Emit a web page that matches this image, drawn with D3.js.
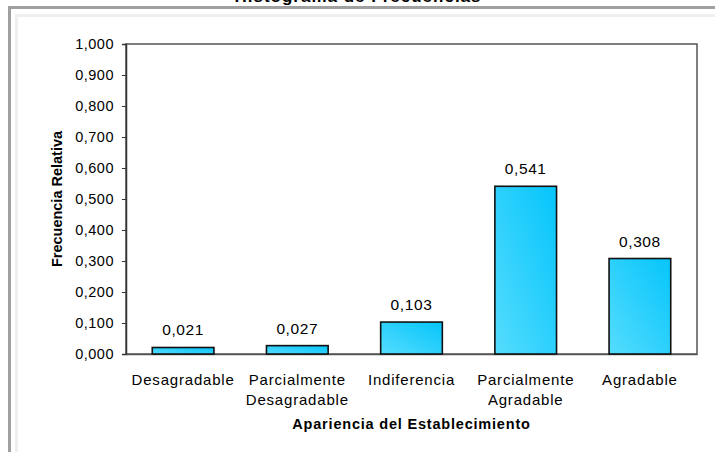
<!DOCTYPE html>
<html>
<head>
<meta charset="utf-8">
<script src="https://cdn.jsdelivr.net/npm/d3@7"></script>
<style>
  body { margin: 0; background: #fff; }
  text { font-family: Arial, "Liberation Sans", sans-serif; fill: #000; }
</style>
</head>
<body>
<div id="chart"></div>
<script>
// data
var categories = ["Desagradable", "Parcialmente Desagradable", "Indiferencia", "Parcialmente Agradable", "Agradable"];
var categoryLines = [["Desagradable"], ["Parcialmente", "Desagradable"], ["Indiferencia"], ["Parcialmente", "Agradable"], ["Agradable"]];
var frecuencia = [0.021, 0.027, 0.103, 0.541, 0.308];
var yTicks = [0, 0.1, 0.2, 0.3, 0.4, 0.5, 0.6, 0.7, 0.8, 0.9, 1.0];

var svgWidth = 715, svgHeight = 452;
var margin = { top: 44, right: 18, bottom: 98, left: 126 };
var width = svgWidth - margin.left - margin.right;
var height = svgHeight - margin.top - margin.bottom;

var es = d3.formatLocale({ decimal: ",", thousands: ".", grouping: [3], currency: ["", ""] });
var fmt = es.format(".3f");

var svg = d3.select("#chart").append("svg")
  .attr("width", svgWidth)
  .attr("height", svgHeight);

// gradient for the bars
var grad = svg.append("defs").append("linearGradient")
  .attr("id", "barFill")
  .attr("x1", 0).attr("y1", 1).attr("x2", 1).attr("y2", 0);
grad.append("stop").attr("offset", "0%").attr("stop-color", "#55dcfd");
grad.append("stop").attr("offset", "100%").attr("stop-color", "#05c5fb");

// outer frame (cut by the window)
svg.append("path").attr("d", "M9.5,452V7.5H715")
  .attr("fill", "none").attr("stroke", "#a0a0a0").attr("stroke-width", 3);
svg.append("path").attr("d", "M16.5,452V15.5H715")
  .attr("fill", "none").attr("stroke", "#efefef").attr("stroke-width", 3);

// title, mostly above the visible area
svg.append("text")
  .attr("x", 358).attr("y", 2)
  .attr("text-anchor", "middle")
  .style("font-size", "17px").style("font-weight", "bold").style("letter-spacing", "1px")
  .text("Histograma de Frecuencias");

var chartGroup = svg.append("g")
  .attr("transform", `translate(${margin.left}, ${margin.top})`);

var xScale = d3.scaleBand()
  .domain(categories)
  .range([0, width])
  .paddingInner(0.46)
  .paddingOuter(0.23);

var yScale = d3.scaleLinear()
  .domain([0, 1])
  .range([height, 0]);

// plot border
chartGroup.append("rect")
  .attr("x", 0).attr("y", 0)
  .attr("width", width).attr("height", height)
  .attr("fill", "none").attr("stroke", "#555").attr("stroke-width", 1.5);

// y axis
var leftAxis = d3.axisLeft(yScale).tickValues(yTicks).tickFormat(fmt).tickSizeOuter(0).tickSize(4).tickPadding(8);
var yAxisG = chartGroup.append("g").call(leftAxis);
yAxisG.select(".domain").attr("stroke", "#333").attr("stroke-width", 1.5);
yAxisG.selectAll(".tick line").attr("stroke", "#333");
yAxisG.selectAll(".tick text")
  .style("font-size", "14.5px").style("letter-spacing", "0.5px")
  .attr("font-family", null);

// x axis
var bottomAxis = d3.axisBottom(xScale).tickSize(0).tickSizeOuter(0).tickFormat("");
var xAxisG = chartGroup.append("g")
  .attr("transform", `translate(0, ${height})`)
  .call(bottomAxis);
xAxisG.select(".domain").attr("stroke", "#555").attr("stroke-width", 1.5);

xAxisG.selectAll(".tick").each(function (d, i) {
  var t = d3.select(this).append("text")
    .attr("text-anchor", "middle")
    .attr("y", 31)
    .style("font-size", "15px").style("letter-spacing", "0.8px");
  categoryLines[i].forEach(function (line, j) {
    t.append("tspan").attr("x", 0).attr("dy", j === 0 ? 0 : 19.5).text(line);
  });
});

// bars
chartGroup.selectAll("rect.bar")
  .data(frecuencia)
  .enter()
  .append("rect")
  .attr("class", "bar")
  .attr("x", (d, i) => xScale(categories[i]))
  .attr("y", d => yScale(d))
  .attr("width", xScale.bandwidth())
  .attr("height", d => height - yScale(d))
  .attr("fill", "url(#barFill)")
  .attr("stroke", "#111")
  .attr("stroke-width", 1.6);

// value labels
chartGroup.selectAll("text.val")
  .data(frecuencia)
  .enter()
  .append("text")
  .attr("class", "val")
  .attr("x", (d, i) => xScale(categories[i]) + xScale.bandwidth() / 2)
  .attr("y", d => yScale(d) - 12)
  .attr("text-anchor", "middle")
  .style("font-size", "15.5px").style("letter-spacing", "0.6px")
  .text(d => fmt(d));

// axis titles
chartGroup.append("text")
  .attr("transform", "rotate(-90)")
  .attr("x", 0 - height / 2)
  .attr("y", -64)
  .attr("text-anchor", "middle")
  .style("font-size", "14.5px").style("font-weight", "bold")
  .text("Frecuencia Relativa");

chartGroup.append("text")
  .attr("x", width / 2)
  .attr("y", height + 75)
  .attr("text-anchor", "middle")
  .style("font-size", "14.5px").style("font-weight", "bold").style("letter-spacing", "0.8px")
  .text("Apariencia del Establecimiento");
</script>
</body>
</html>
